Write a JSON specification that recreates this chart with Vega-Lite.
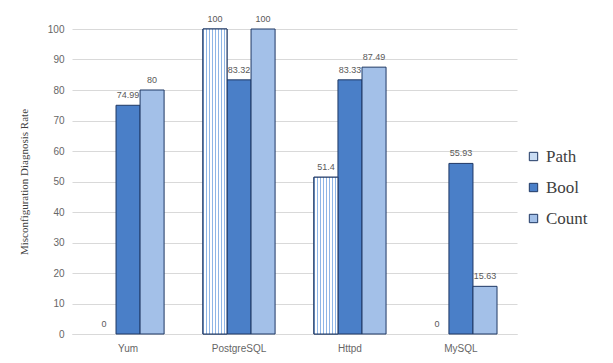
{
  "$schema": "https://vega.github.io/schema/vega-lite/v6.json",
  "width": 445,
  "height": 305,
  "autosize": {"type": "none"},
  "padding": {"left": 72, "top": 29, "right": 96, "bottom": 29},
  "background": "white",
  "config": {
    "view": {"stroke": null},
    "axis": {"labelFont": "Liberation Sans", "labelColor": "#666666", "labelFontSize": 10, "gridColor": "#d9d9d9", "domainColor": "#d9d9d9", "tickColor": "#d9d9d9"}
  },
  "data": {
    "values": [
      {"app": "Yum", "series": "Path", "rate": 0},
      {"app": "Yum", "series": "Bool", "rate": 74.99},
      {"app": "Yum", "series": "Count", "rate": 80},
      {"app": "PostgreSQL", "series": "Path", "rate": 100},
      {"app": "PostgreSQL", "series": "Bool", "rate": 83.32},
      {"app": "PostgreSQL", "series": "Count", "rate": 100},
      {"app": "Httpd", "series": "Path", "rate": 51.4},
      {"app": "Httpd", "series": "Bool", "rate": 83.33},
      {"app": "Httpd", "series": "Count", "rate": 87.49},
      {"app": "MySQL", "series": "Path", "rate": 0},
      {"app": "MySQL", "series": "Bool", "rate": 55.93},
      {"app": "MySQL", "series": "Count", "rate": 15.63}
    ]
  },
  "encoding": {
    "x": {"field": "app", "type": "nominal", "sort": ["Yum", "PostgreSQL", "Httpd", "MySQL"],
      "scale": {"paddingInner": 0.35, "paddingOuter": 0.18},
      "axis": {"title": null, "labelAngle": 0, "ticks": false, "labelPadding": 9, "domainColor": "#d9d9d9"}},
    "xOffset": {"field": "series", "type": "nominal", "scale": {"domain": ["Path", "Bool", "Count"], "paddingInner": 0, "paddingOuter": 0}},
    "y": {"field": "rate", "type": "quantitative",
      "scale": {"domain": [0, 100], "nice": false},
      "axis": {"title": "Misconfiguration Diagnosis Rate", "titleFont": "Liberation Serif", "titleFontWeight": "normal", "titleFontSize": 11, "titleColor": "#404040", "titlePadding": 18,
        "values": [0, 10, 20, 30, 40, 50, 60, 70, 80, 90, 100], "domain": false, "ticks": false, "labelPadding": 8}}
  },
  "layer": [
    {
      "mark": {"type": "bar", "stroke": "#1f3864", "strokeWidth": 1},
      "encoding": {
        "strokeOpacity": {"condition": {"test": "datum.rate === 0", "value": 0}, "value": 1},
        "color": {"field": "series", "type": "nominal",
          "scale": {"domain": ["Path", "Bool", "Count"], "range": ["#c9dcf3", "#4a7fc8", "#a3c0e8"]},
          "legend": {"title": null, "orient": "none", "legendX": 453, "legendY": 119, "symbolType": "square", "symbolSize": 70,
            "symbolStrokeColor": "#1f3864", "symbolStrokeWidth": 1, "symbolOpacity": 1, "labelFont": "Liberation Serif", "labelFontSize": 17, "labelColor": "#404040",
            "rowPadding": 13, "labelOffset": 4}}
      }
    },
    {
      "transform": [{"filter": "datum.series === 'Path' && datum.rate > 0"}],
      "mark": {"type": "bar", "stroke": "#1f3864", "strokeWidth": 1, "fill": {"gradient": "linear", "x1": 0, "y1": 0, "x2": 1, "y2": 0, "stops": [
              {"offset": 0, "color": "#8fb6e6"}, {"offset": 0.05, "color": "#8fb6e6"}, {"offset": 0.05, "color": "#ffffff"}, {"offset": 0.125, "color": "#ffffff"},
              {"offset": 0.125, "color": "#8fb6e6"}, {"offset": 0.175, "color": "#8fb6e6"}, {"offset": 0.175, "color": "#ffffff"}, {"offset": 0.25, "color": "#ffffff"},
              {"offset": 0.25, "color": "#8fb6e6"}, {"offset": 0.3, "color": "#8fb6e6"}, {"offset": 0.3, "color": "#ffffff"}, {"offset": 0.375, "color": "#ffffff"},
              {"offset": 0.375, "color": "#8fb6e6"}, {"offset": 0.425, "color": "#8fb6e6"}, {"offset": 0.425, "color": "#ffffff"}, {"offset": 0.5, "color": "#ffffff"},
              {"offset": 0.5, "color": "#8fb6e6"}, {"offset": 0.55, "color": "#8fb6e6"}, {"offset": 0.55, "color": "#ffffff"}, {"offset": 0.625, "color": "#ffffff"},
              {"offset": 0.625, "color": "#8fb6e6"}, {"offset": 0.675, "color": "#8fb6e6"}, {"offset": 0.675, "color": "#ffffff"}, {"offset": 0.75, "color": "#ffffff"},
              {"offset": 0.75, "color": "#8fb6e6"}, {"offset": 0.8, "color": "#8fb6e6"}, {"offset": 0.8, "color": "#ffffff"}, {"offset": 0.875, "color": "#ffffff"},
              {"offset": 0.875, "color": "#8fb6e6"}, {"offset": 0.925, "color": "#8fb6e6"}, {"offset": 0.925, "color": "#ffffff"}, {"offset": 1, "color": "#ffffff"}
            ]}},
      "encoding": {}
    },
    {
      "mark": {"type": "text", "baseline": "bottom", "dy": -5, "font": "Liberation Sans", "fontSize": 9, "color": "#595959"},
      "encoding": {"text": {"field": "rate", "type": "quantitative"}}
    }
  ]
}
